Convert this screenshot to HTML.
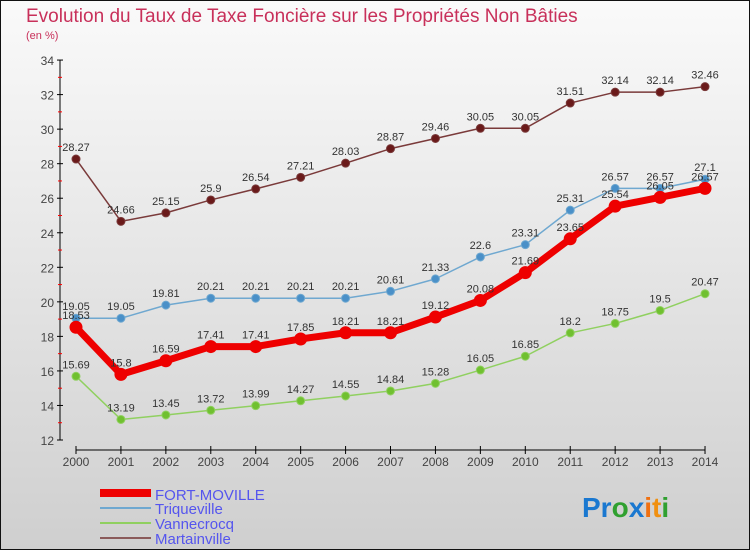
<!DOCTYPE html>
<html><head><meta charset="utf-8"><style>
body{margin:0}
svg{display:block;font-family:"Liberation Sans",sans-serif}
</style></head><body>
<svg id="c" width="750" height="550" xmlns="http://www.w3.org/2000/svg">
<defs><linearGradient id="bg" x1="0" y1="0" x2="0" y2="1"><stop offset="0" stop-color="#fafafa"/><stop offset="1" stop-color="#cfcfcf"/></linearGradient></defs>
<rect x="0.5" y="0.5" width="749" height="549" fill="url(#bg)" stroke="#111"/>
<text x="26" y="22" font-size="19" fill="#c8305a">Evolution du Taux de Taxe Foncière sur les Propriétés Non Bâties</text>
<text x="26" y="39" font-size="11" fill="#c8305a">(en %)</text>
<g id="axes"></g><g id="series"></g>
<g>
<line x1="100" y1="493" x2="151" y2="493" stroke="#ee0000" stroke-width="8"/>
<text x="155" y="500" font-size="15" fill="#5555ee">FORT-MOVILLE</text>
<line x1="100" y1="508" x2="151" y2="508" stroke="#6fa8d0" stroke-width="2"/>
<text x="155" y="514" font-size="15" fill="#5555ee">Triqueville</text>
<line x1="100" y1="523" x2="151" y2="523" stroke="#90d060" stroke-width="2"/>
<text x="155" y="529" font-size="15" fill="#5555ee">Vannecrocq</text>
<line x1="100" y1="538" x2="151" y2="538" stroke="#8a5a5a" stroke-width="2"/>
<text x="155" y="544" font-size="15" fill="#5555ee">Martainville</text>
</g>
<g font-size="28" font-weight="bold">
<text x="582" y="517"><tspan fill="#1a78d0">Pr</tspan><tspan fill="#30a030">o</tspan><tspan fill="#1a78d0">x</tspan><tspan fill="#f07010">i</tspan><tspan fill="#f09010">t</tspan><tspan fill="#30a030">i</tspan></text>
</g>
</svg>
<script>
const years=[2000,2001,2002,2003,2004,2005,2006,2007,2008,2009,2010,2011,2012,2013,2014];
const yTicks=[12,14,16,18,20,22,24,26,28,30,32,34];
const fort=[18.53,15.8,16.59,17.41,17.41,17.85,18.21,18.21,19.12,20.08,21.69,23.65,25.54,26.05,26.57];
const triq=[19.05,19.05,19.81,20.21,20.21,20.21,20.21,20.61,21.33,22.6,23.31,25.31,26.57,26.57,27.1];
const vann=[15.69,13.19,13.45,13.72,13.99,14.27,14.55,14.84,15.28,16.05,16.85,18.2,18.75,19.5,20.47];
const mart=[28.27,24.66,25.15,25.9,26.54,27.21,28.03,28.87,29.46,30.05,30.05,31.51,32.14,32.14,32.46];
const NS="http://www.w3.org/2000/svg";
const X=i=>76+i*44.93, Y=v=>440-(v-12)*17.27;
function mk(t,a,p){const e=document.createElementNS(NS,t);for(const k in a)e.setAttribute(k,a[k]);p.appendChild(e);return e;}
const ax=document.getElementById('axes'), sg=document.getElementById('series');
let l=mk('line',{x1:60,y1:Y(34),x2:60,y2:Y(12),stroke:'#000'},ax);


yTicks.forEach(v=>{
 mk('line',{x1:57,x2:63,y1:Y(v),y2:Y(v),stroke:'#000'},ax);
 if(v<34)mk('line',{x1:58,x2:62,y1:Y(v+1),y2:Y(v+1),stroke:'#f00'},ax);
 const t=mk('text',{x:54,y:Y(v)+5,'text-anchor':'end','font-size':12,fill:'#444'},ax);t.textContent=v;
 
 
});
l=mk('line',{x1:X(0),y1:450,x2:X(14),y2:450,stroke:'#000'},ax);


years.forEach((y,i)=>{
 mk('line',{x1:X(i),x2:X(i),y1:446,y2:454,stroke:'#000'},ax);
 const t=mk('text',{x:X(i),y:466,'text-anchor':'middle','font-size':12,fill:'#444'},ax);t.textContent=y;
 
 
});
function series(d,name,col,w,r,dot){
 const g=mk('g',{},sg);
 
 
 mk('polyline',{points:d.map((v,i)=>X(i)+','+Y(v)).join(' '),fill:'none',stroke:col,'stroke-width':w,'stroke-linejoin':'round'},g);
 d.forEach((v,i)=>{
  const c=mk('circle',{cx:X(i),cy:Y(v),r:r,fill:dot,stroke:col},g);
  
  
  const t=mk('text',{x:X(i),y:Y(v)-8,'text-anchor':'middle','font-size':11,fill:'#333'},g);t.textContent=v;
  
  
 });
}
series(mart,'martainville','#7a3a3a',1.5,4,'#6a1a1a');
series(vann,'vannecrocq','#90d060',1.5,4,'#70c030');
series(triq,'triqueville','#6fa8d0',1.5,4,'#4a90c8');
series(fort,'fort-moville','#ee0000',7,6,'#ee0000');
</script>
</body></html>
